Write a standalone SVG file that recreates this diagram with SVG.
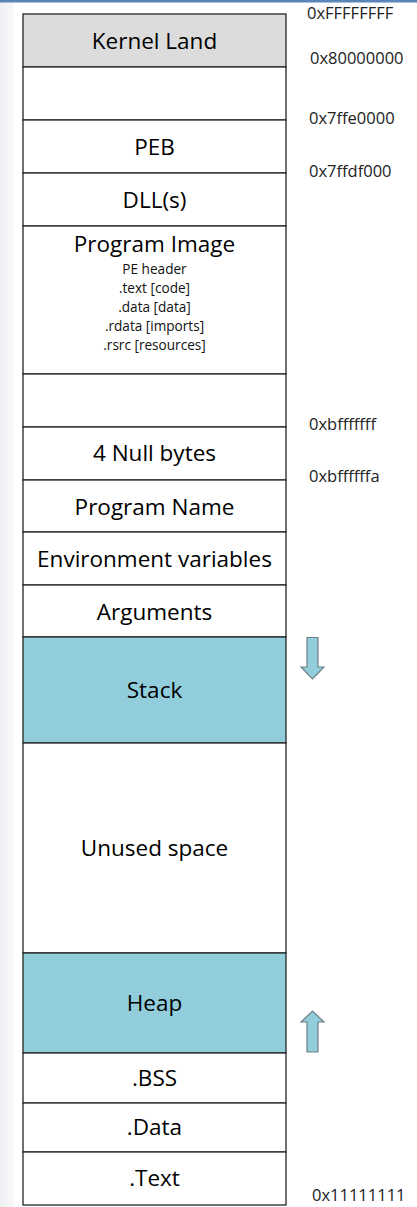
<svg xmlns="http://www.w3.org/2000/svg" width="417" height="1207" viewBox="0 0 417 1207">
<defs>
<style>
.cell{stroke:#262626;stroke-width:1.3;fill:#ffffff}
.kern{fill:#dcdcdc}
.blue{fill:#92cddc}
.lbl{font-family:"Open Sans","Liberation Sans",sans-serif;font-size:22.5px;fill:#000;text-anchor:middle}
.sub{font-family:"Open Sans","Liberation Sans",sans-serif;font-size:13.6px;fill:#111;text-anchor:middle}
.addr{font-family:"Open Sans","Liberation Sans",sans-serif;font-size:16.5px;fill:#222}
.arrow{fill:#92cddc;stroke:#6f7f86;stroke-width:1.2}
</style>
<linearGradient id="side" x1="0" y1="0" x2="1" y2="0">
<stop offset="0" stop-color="#eef0f3"/>
<stop offset="1" stop-color="#f8f9fa"/>
</linearGradient>
</defs>
<rect x="0" y="0" width="417" height="1207" fill="#ffffff"/>
<rect x="0" y="0" width="14" height="1207" fill="url(#side)"/>
<rect x="0" y="0" width="417" height="2.5" fill="#5b84b8"/>
<g id="kernel"><rect class="cell kern" x="23" y="14" width="263" height="53"/><text class="lbl" x="154.5" y="49">Kernel Land</text></g>
<g id="gap1"><rect class="cell" x="23" y="67" width="263" height="53"/></g>
<g id="peb"><rect class="cell" x="23" y="120" width="263" height="53"/><text class="lbl" x="154.5" y="155">PEB</text></g>
<g id="dll"><rect class="cell" x="23" y="173" width="263" height="53"/><text class="lbl" x="154.5" y="207.5">DLL(s)</text></g>
<g id="image"><rect class="cell" x="23" y="226" width="263" height="148"/>
<text class="lbl" x="154.5" y="252">Program Image</text>
<text class="sub" x="154.5" y="274">PE header</text>
<text class="sub" x="154.5" y="293">.text [code]</text>
<text class="sub" x="154.5" y="312">.data [data]</text>
<text class="sub" x="154.5" y="331">.rdata [imports]</text>
<text class="sub" x="154.5" y="350">.rsrc [resources]</text></g>
<g id="gap2"><rect class="cell" x="23" y="374" width="263" height="53"/></g>
<g id="null"><rect class="cell" x="23" y="427" width="263" height="53"/><text class="lbl" x="154.5" y="460.5">4 Null bytes</text></g>
<g id="pname"><rect class="cell" x="23" y="480" width="263" height="52"/><text class="lbl" x="154.5" y="514.5">Program Name</text></g>
<g id="env"><rect class="cell" x="23" y="532" width="263" height="53"/><text class="lbl" x="154.5" y="566.5">Environment variables</text></g>
<g id="args"><rect class="cell" x="23" y="585" width="263" height="52"/><text class="lbl" x="154.5" y="619.5">Arguments</text></g>
<g id="stack"><rect class="cell blue" x="23" y="637" width="263" height="106"/><text class="lbl" x="154.5" y="698">Stack</text></g>
<g id="unused"><rect class="cell" x="23" y="743" width="263" height="210"/><text class="lbl" x="154.5" y="856">Unused space</text></g>
<g id="heap"><rect class="cell blue" x="23" y="953" width="263" height="100"/><text class="lbl" x="154.5" y="1011">Heap</text></g>
<g id="bss"><rect class="cell" x="23" y="1053" width="263" height="50"/><text class="lbl" x="154.5" y="1086">.BSS</text></g>
<g id="data"><rect class="cell" x="23" y="1103" width="263" height="49"/><text class="lbl" x="154.5" y="1135">.Data</text></g>
<g id="text"><rect class="cell" x="23" y="1152" width="263" height="53"/><text class="lbl" x="154.5" y="1186">.Text</text></g>
<g id="addresses">
<text class="addr" x="307" y="19">0xFFFFFFFF</text>
<text class="addr" x="310" y="64">0x80000000</text>
<text class="addr" x="309" y="124">0x7ffe0000</text>
<text class="addr" x="309" y="177">0x7ffdf000</text>
<text class="addr" x="309" y="430">0xbfffffff</text>
<text class="addr" x="309" y="482">0xbffffffa</text>
<text class="addr" x="312" y="1201">0x11111111</text>
</g>
<g id="connectors">
<path class="arrow" d="M307,637.5 H318 V667 H324 L312.5,679 L301,667 H307 Z"/>
<path class="arrow" d="M307,1052 H318 V1022 H324 L312.5,1011 L301,1022 H307 Z"/>
</g>
</svg>
